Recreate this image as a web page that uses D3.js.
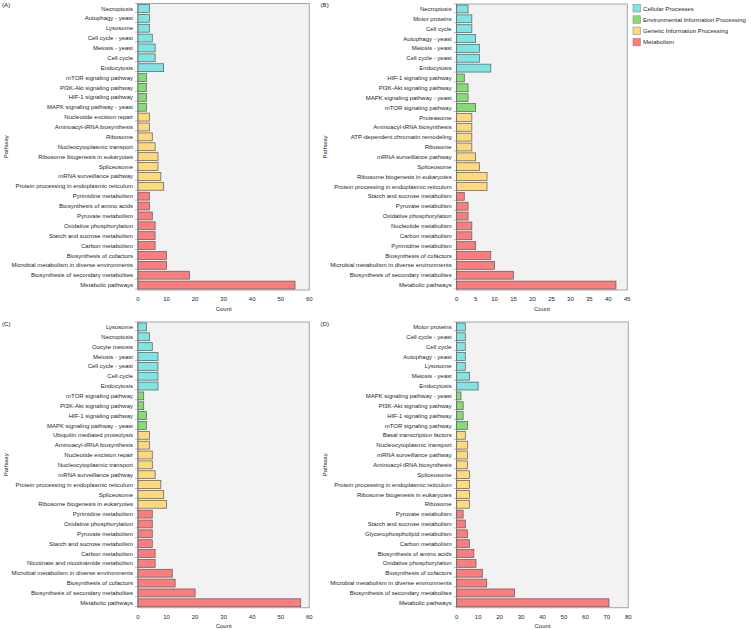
<!DOCTYPE html>
<html>
<head>
<meta charset="utf-8">
<script src="https://cdn.jsdelivr.net/npm/d3@7"></script>
<style>
	body { margin: 0; background: #fff; }
	svg { display: block; font-family: 'Liberation Sans', Arial, sans-serif; }
	.cat-label { font-size: 6px; fill: #262626; }
	.tick-label { font-size: 6px; fill: #262626; }
	.axis-title { font-size: 6px; fill: #262626; }
	.panel-tag { font-size: 6.2px; fill: #262626; }
	.legend text { font-size: 6.1px; fill: #262626; }
</style>
</head>
<body>
<div id="chart"></div>
<script>
/* global d3 */

// groups, in the order they are stacked top to bottom in every panel
var groupNames = ['Cellular Processes', 'Environmental Information Processing', 'Genetic Information Processing', 'Metabolism'];
var groupColors = ['#7fe4e4', '#84dd74', '#ffd97c', '#fb7d7d'];

// panel A
var pathwaysA = ['Necroptosis', 'Autophagy - yeast', 'Lysosome', 'Cell cycle - yeast', 'Meiosis - yeast', 'Cell cycle', 'Endocytosis',
	'mTOR signaling pathway', 'PI3K-Akt signaling pathway', 'HIF-1 signaling pathway', 'MAPK signaling pathway - yeast',
	'Nucleotide excision repair', 'Aminoacyl-tRNA biosynthesis', 'Ribosome', 'Nucleocytoplasmic transport', 'Ribosome biogenesis in eukaryotes', 'Spliceosome', 'mRNA surveillance pathway', 'Protein processing in endoplasmic reticulum',
	'Pyrimidine metabolism', 'Biosynthesis of amino acids', 'Pyruvate metabolism', 'Oxidative phosphorylation', 'Starch and sucrose metabolism', 'Carbon metabolism', 'Biosynthesis of cofactors', 'Microbial metabolism in diverse environments', 'Biosynthesis of secondary metabolites', 'Metabolic pathways'];
var countsA = [4, 4, 4, 5, 6, 6, 9, 3, 3, 3, 3, 4, 4, 5, 6, 7, 7, 8, 9, 4, 4, 5, 6, 6, 6, 10, 10, 18, 55];
var groupSizesA = [7, 4, 8, 10];
var ticksA = [0, 10, 20, 30, 40, 50, 60];

// panel B
var pathwaysB = ['Necroptosis', 'Motor proteins', 'Cell cycle', 'Autophagy - yeast', 'Meiosis - yeast', 'Cell cycle - yeast', 'Endocytosis',
	'HIF-1 signaling pathway', 'PI3K-Akt signaling pathway', 'MAPK signaling pathway - yeast', 'mTOR signaling pathway',
	'Proteasome', 'Aminoacyl-tRNA biosynthesis', 'ATP-dependent chromatin remodeling', 'Ribosome', 'mRNA surveillance pathway', 'Spliceosome', 'Ribosome biogenesis in eukaryotes', 'Protein processing in endoplasmic reticulum',
	'Starch and sucrose metabolism', 'Pyruvate metabolism', 'Oxidative phosphorylation', 'Nucleotide metabolism', 'Carbon metabolism', 'Pyrimidine metabolism', 'Biosynthesis of cofactors', 'Microbial metabolism in diverse environments', 'Biosynthesis of secondary metabolites', 'Metabolic pathways'];
var countsB = [3, 4, 4, 5, 6, 6, 9, 2, 3, 3, 5, 4, 4, 4, 4, 5, 6, 8, 8, 2, 3, 3, 4, 4, 5, 9, 10, 15, 42];
var groupSizesB = [7, 4, 8, 10];
var ticksB = [0, 5, 10, 15, 20, 25, 30, 35, 40, 45];

// panel C
var pathwaysC = ['Lysosome', 'Necroptosis', 'Oocyte meiosis', 'Meiosis - yeast', 'Cell cycle - yeast', 'Cell cycle', 'Endocytosis',
	'mTOR signaling pathway', 'PI3K-Akt signaling pathway', 'HIF-1 signaling pathway', 'MAPK signaling pathway - yeast',
	'Ubiquitin mediated proteolysis', 'Aminoacyl-tRNA biosynthesis', 'Nucleotide excision repair', 'Nucleocytoplasmic transport', 'mRNA surveillance pathway', 'Protein processing in endoplasmic reticulum', 'Spliceosome', 'Ribosome biogenesis in eukaryotes',
	'Pyrimidine metabolism', 'Oxidative phosphorylation', 'Pyruvate metabolism', 'Starch and sucrose metabolism', 'Carbon metabolism', 'Nicotinate and nicotinamide metabolism', 'Microbial metabolism in diverse environments', 'Biosynthesis of cofactors', 'Biosynthesis of secondary metabolites', 'Metabolic pathways'];
var countsC = [3, 4, 5, 7, 7, 7, 7, 2, 2, 3, 3, 4, 4, 5, 5, 6, 8, 9, 10, 5, 5, 5, 5, 6, 6, 12, 13, 20, 57];
var groupSizesC = [7, 4, 8, 10];
var ticksC = [0, 10, 20, 30, 40, 50, 60];

// panel D
var pathwaysD = ['Motor proteins', 'Cell cycle - yeast', 'Cell cycle', 'Autophagy - yeast', 'Lysosome', 'Meiosis - yeast', 'Endocytosis',
	'MAPK signaling pathway - yeast', 'PI3K-Akt signaling pathway', 'HIF-1 signaling pathway', 'mTOR signaling pathway',
	'Basal transcription factors', 'Nucleocytoplasmic transport', 'mRNA surveillance pathway', 'Aminoacyl-tRNA biosynthesis', 'Spliceosome', 'Protein processing in endoplasmic reticulum', 'Ribosome biogenesis in eukaryotes', 'Ribosome',
	'Pyruvate metabolism', 'Starch and sucrose metabolism', 'Glycerophospholipid metabolism', 'Carbon metabolism', 'Biosynthesis of amino acids', 'Oxidative phosphorylation', 'Biosynthesis of cofactors', 'Microbial metabolism in diverse environments', 'Biosynthesis of secondary metabolites', 'Metabolic pathways'];
var countsD = [4, 4, 4, 4, 4, 6, 10, 2, 3, 3, 5, 4, 5, 5, 5, 6, 6, 6, 6, 3, 4, 5, 6, 8, 9, 12, 14, 27, 71];
var groupSizesD = [7, 4, 8, 10];
var ticksD = [0, 10, 20, 30, 40, 50, 60, 70, 80];

var width = 751, height = 630;

var svg = d3.select('#chart').append('svg')
	.attr('width', width)
	.attr('height', height);

function expandGroups(sizes) {
	var res = [];
	sizes.forEach(function (n, i) {
		for (var k = 0; k < n; k++) { res.push(i); }
	});
	return res;
}

function buildPanel(cfg) {
	var g = svg.append('g').attr('class', 'panel');
	var groupIdx = expandGroups(cfg.groupSizes);
	var rows = cfg.pathways.map(function (p, i) {
		return { name: p, count: cfg.counts[i], group: groupIdx[i] };
	});

	var x = d3.scaleLinear()
		.domain([0, cfg.ticks[cfg.ticks.length - 1]])
		.range([cfg.left, cfg.right]);
	var y = d3.scaleBand()
		.domain(cfg.pathways)
		.range([cfg.top, cfg.bottom])
		.paddingInner(0.2)
		.paddingOuter(0.1);

	// plot area
	g.append('rect')
		.attr('x', cfg.left)
		.attr('y', cfg.top)
		.attr('width', cfg.right - cfg.left)
		.attr('height', cfg.bottom - cfg.top)
		.attr('fill', '#f2f2f2')
		.attr('stroke', '#a6a6a6')
		.attr('stroke-width', 1);

	// ticks between categories
	var step = y.step();
	g.selectAll('.ytick')
		.data(d3.range(cfg.pathways.length + 1))
		.enter().append('line')
			.attr('x1', cfg.left - 3)
			.attr('x2', cfg.left)
			.attr('y1', function (i) { return cfg.top + i * step - step * 0.1 + (i === 0 ? step * 0.1 : 0); })
			.attr('y2', function (i) { return cfg.top + i * step - step * 0.1 + (i === 0 ? step * 0.1 : 0); })
			.attr('stroke', '#8c8c8c')
			.attr('stroke-width', 0.6);

	g.append('line')
		.attr('x1', cfg.left).attr('x2', cfg.left)
		.attr('y1', cfg.top).attr('y2', cfg.bottom)
		.attr('stroke', '#8c8c8c')
		.attr('stroke-width', 0.8);

	// bars
	g.selectAll('.bar')
		.data(rows)
		.enter().append('rect')
			.attr('class', 'bar')
			.attr('x', x(0))
			.attr('y', function (d) { return y(d.name); })
			.attr('width', function (d) { return x(d.count) - x(0); })
			.attr('height', y.bandwidth())
			.attr('fill', function (d) { return groupColors[d.group]; })
			.attr('stroke', '#5a5a5a')
			.attr('stroke-width', 0.7);

	// category labels
	g.selectAll('.cat-label')
		.data(rows)
		.enter().append('text')
			.attr('class', 'cat-label')
			.attr('x', cfg.left - 5)
			.attr('y', function (d) { return y(d.name) + y.bandwidth() / 2; })
			.attr('dy', '0.35em')
			.attr('text-anchor', 'end')
			.text(function (d) { return d.name; });

	// x tick labels
	g.selectAll('.tick-label')
		.data(cfg.ticks)
		.enter().append('text')
			.attr('class', 'tick-label')
			.attr('x', function (d) { return x(d); })
			.attr('y', cfg.bottom + 9)
			.attr('dy', '0.35em')
			.attr('text-anchor', 'middle')
			.text(function (d) { return d; });

	g.append('text')
		.attr('class', 'axis-title')
		.attr('x', (cfg.left + cfg.right) / 2)
		.attr('y', cfg.bottom + 18.5)
		.attr('dy', '0.35em')
		.attr('text-anchor', 'middle')
		.text('Count');

	g.append('text')
		.attr('class', 'axis-title')
		.attr('transform', 'translate(' + cfg.yTitleX + ',' + ((cfg.top + cfg.bottom) / 2) + ') rotate(-90)')
		.attr('dy', '0.35em')
		.attr('text-anchor', 'middle')
		.text('Pathway');

	g.append('text')
		.attr('class', 'panel-tag')
		.attr('x', cfg.tagX)
		.attr('y', cfg.tagY)
		.attr('dy', '0.35em')
		.text(cfg.tag);
}

buildPanel({ tag: '(A)', tagX: 2, tagY: 5, yTitleX: 6, left: 138, right: 309.3, top: 3.5, bottom: 290,
	pathways: pathwaysA, counts: countsA, groupSizes: groupSizesA, ticks: ticksA });
buildPanel({ tag: '(B)', tagX: 320.5, tagY: 5, yTitleX: 325, left: 456.7, right: 627.3, top: 4, bottom: 290,
	pathways: pathwaysB, counts: countsB, groupSizes: groupSizesB, ticks: ticksB });
buildPanel({ tag: '(C)', tagX: 2, tagY: 324, yTitleX: 6, left: 138, right: 309.3, top: 322, bottom: 607.7,
	pathways: pathwaysC, counts: countsC, groupSizes: groupSizesC, ticks: ticksC });
buildPanel({ tag: '(D)', tagX: 320.5, tagY: 324, yTitleX: 325, left: 456.7, right: 628.3, top: 322, bottom: 607.7,
	pathways: pathwaysD, counts: countsD, groupSizes: groupSizesD, ticks: ticksD });

// legend
var legend = svg.append('g')
	.attr('class', 'legend')
	.attr('transform', 'translate(633,4.5)');

var items = legend.selectAll('.item')
	.data(groupNames)
	.enter().append('g')
		.attr('class', 'item')
		.attr('transform', function (d, i) { return 'translate(0,' + (i * 11.3) + ')'; });

items.append('rect')
	.attr('width', 7.5)
	.attr('height', 7.5)
	.attr('fill', function (d, i) { return groupColors[i]; })
	.attr('stroke', '#8c8c8c')
	.attr('stroke-width', 0.6);

items.append('text')
	.attr('x', 10)
	.attr('y', 3.9)
	.attr('dy', '0.35em')
	.text(function (d) { return d; });
</script>
</body>
</html>
